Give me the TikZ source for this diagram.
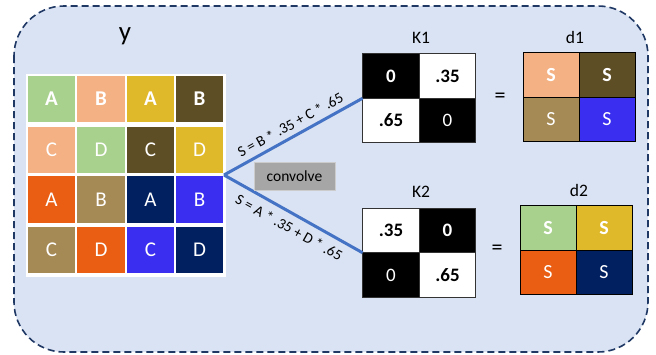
\documentclass[tikz,border=0pt]{standalone}
\usepackage{fontspec}
\setmainfont{Carlito}
\begin{document}
\definecolor{panelfill}{HTML}{DAE3F3}
\definecolor{panelline}{HTML}{1F3864}
\definecolor{cgreen}{HTML}{A9D18E}
\definecolor{cpeach}{HTML}{F4B183}
\definecolor{cgold}{HTML}{E0B92A}
\definecolor{cbrown}{HTML}{5E4E26}
\definecolor{corange}{HTML}{E95E13}
\definecolor{ctan}{HTML}{A68A56}
\definecolor{cnavy}{HTML}{002060}
\definecolor{cblue}{HTML}{3A2EF0}
\definecolor{linkblue}{HTML}{4472C4}
\definecolor{btngray}{HTML}{A6A6A6}
\begin{tikzpicture}[x=1pt,y=-1pt,
  cell/.style={minimum width=48.5pt,minimum height=48pt,inner sep=0pt,
    draw=white,line width=1.2pt,text=white,font=\fontsize{21}{21}\selectfont},
  cellb/.style={cell,font=\bfseries\fontsize{21}{21}\selectfont},
  kcell/.style={minimum width=56.5pt,minimum height=44.5pt,inner sep=0pt,
    draw=black!80,line width=0.8pt,font=\bfseries\fontsize{19}{19}\selectfont},
  kblack/.style={kcell,fill=black,text=white},
  kwhite/.style={kcell,fill=white,text=black},
  kthin/.style={kblack,font=\fontsize{19}{19}\selectfont},
  dcell/.style={minimum width=56pt,minimum height=44.5pt,inner sep=0pt,
    draw=black,line width=0.8pt,text=white,font=\fontsize{20}{20}\selectfont},
  dcellb/.style={dcell,font=\bfseries\fontsize{20}{20}\selectfont},
  caption/.style={font=\fontsize{17.5}{17.5}\selectfont},
  link/.style={draw=linkblue,line width=3pt},
  formula/.style={font=\fontsize{15}{15}\selectfont,sloped,inner sep=2pt}]
\useasboundingbox (0,0) rectangle (656,354);
% dashed rounded panel
\draw[panelline,fill=panelfill,line width=1.6pt,dash pattern=on 7pt off 4pt,rounded corners=50pt]
  (14,6) rectangle (648,352);
% input grid y
\node[font=\fontsize{27}{27}\selectfont] (ylab) at (125,36) {y};
\fill[white] (25.5,73.5) rectangle (225.5,276.5);
\node[cellb,fill=cgreen] (c11) at (51.5,99) {A};
\node[cellb,fill=cpeach] (c12) at (101,99) {B};
\node[cellb,fill=cgold] (c13) at (150.5,99) {A};
\node[cellb,fill=cbrown] (c14) at (199.5,99) {B};
\node[cell,fill=cpeach] (c21) at (51.5,150) {C};
\node[cell,fill=cgreen] (c22) at (101,150) {D};
\node[cell,fill=cbrown] (c23) at (150.5,150) {C};
\node[cell,fill=cgold] (c24) at (199.5,150) {D};
\node[cell,fill=corange] (c31) at (51.5,199.5) {A};
\node[cell,fill=ctan] (c32) at (101,199.5) {B};
\node[cell,fill=cnavy] (c33) at (150.5,199.5) {A};
\node[cell,fill=cblue] (c34) at (199.5,199.5) {B};
\node[cell,fill=ctan] (c41) at (51.5,250) {C};
\node[cell,fill=corange] (c42) at (101,250) {D};
\node[cell,fill=cblue] (c43) at (150.5,250) {C};
\node[cell,fill=cnavy] (c44) at (199.5,250) {D};
\coordinate (split) at (224,175);
% kernel K1
\node[caption] (k1lab) at (421,38) {K1};
\node[kblack] (k1a) at (391,76) {0};
\node[kwhite] (k1b) at (447.5,76) {.35};
\node[kwhite] (k1c) at (391,120.5) {.65};
\node[kthin] (k1d) at (447.5,120.5) {0};
\node[inner sep=0pt,minimum width=113pt,minimum height=89pt] (k1) at (419.25,98.25) {};
% kernel K2
\node[caption] (k2lab) at (421,192) {K2};
\node[kwhite] (k2a) at (391,230.5) {.35};
\node[kblack] (k2b) at (447.5,230.5) {0};
\node[kthin] (k2c) at (391,275) {0};
\node[kwhite] (k2d) at (447.5,275) {.65};
\node[inner sep=0pt,minimum width=113pt,minimum height=89pt] (k2) at (419.25,252.75) {};
% connectors with formulas
\path[link] (split) -- (k1.west)
  node[formula,pos=0.52,above=3pt] {S = B * .35 + C * .65};
\path[link] (split) -- (k2.west)
  node[formula,pos=0.52,below=5pt] {S = A * .35 + D * .65};
\node[fill=btngray,draw=black!20,line width=0.6pt,minimum width=81pt,minimum height=28pt,
  inner sep=0pt,font=\fontsize{15.5}{15.5}\selectfont] (conv) at (294.5,176) {convolve};
% equals signs
\node[font=\fontsize{22}{22}\selectfont] (eq1) at (500,98) {=};
\node[font=\fontsize{22}{22}\selectfont] (eq2) at (497,250) {=};
% output d1
\node[caption] (d1lab) at (575,37) {d1};
\node[dcellb,fill=cpeach] (d1a) at (551,75) {S};
\node[dcellb,fill=cbrown] (d1b) at (607,75) {S};
\node[dcell,fill=ctan] (d1c) at (551,119.5) {S};
\node[dcell,fill=cblue] (d1d) at (607,119.5) {S};
% output d2
\node[caption] (d2lab) at (579,190) {d2};
\node[dcellb,fill=cgreen] (d2a) at (548,228) {S};
\node[dcellb,fill=cgold] (d2b) at (604,228) {S};
\node[dcell,fill=corange] (d2c) at (548,272.5) {S};
\node[dcell,fill=cnavy] (d2d) at (604,272.5) {S};
\end{tikzpicture}
\end{document}
